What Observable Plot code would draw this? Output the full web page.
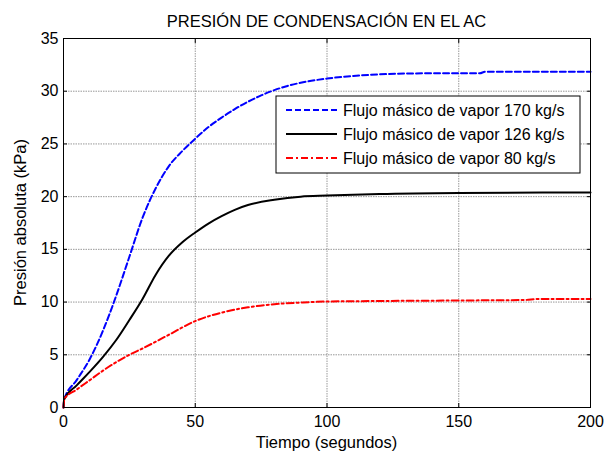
<!DOCTYPE html>
<html>
<head>
<meta charset="utf-8">
<script src="https://cdn.jsdelivr.net/npm/d3@7"></script>
<script src="https://cdn.jsdelivr.net/npm/@observablehq/plot@0.6"></script>
<style>
body { margin: 0; background: #fff; }
svg { font-family: "Liberation Sans", Arial, sans-serif; }
</style>
</head>
<body>
<div id="chart"></div>
<script>
const title = "PRESIÓN DE CONDENSACIÓN EN EL AC";
const xLabel = "Tiempo (segundos)";
const yLabel = "Presión absoluta (kPa)";
const seriesNames = ["Flujo másico de vapor 170 kg/s", "Flujo másico de vapor 126 kg/s", "Flujo másico de vapor 80 kg/s"];
const xTicks = [0, 50, 100, 150, 200];
const yTicks = [0, 5, 10, 15, 20, 25, 30, 35];

const t170 = [0, 0.3, 5, 10, 15, 20, 25, 30, 35, 40, 45, 50, 55, 60, 65, 70, 75, 80, 85, 90, 100, 110, 120, 140, 158, 160, 180, 200];
const p170 = [0, 0.8, 2.6, 4.6, 7.3, 10.6, 14.3, 18.0, 20.8, 22.9, 24.3, 25.5, 26.6, 27.5, 28.3, 29.0, 29.6, 30.1, 30.5, 30.8, 31.2, 31.45, 31.6, 31.7, 31.7, 31.85, 31.85, 31.85];
const t126 = [0, 0.3, 5, 10, 15, 20, 25, 30, 35, 40, 45, 50, 55, 60, 65, 70, 80, 90, 100, 120, 150, 200];
const p126 = [0, 0.8, 2.1, 3.4, 4.8, 6.4, 8.3, 10.3, 12.6, 14.4, 15.65, 16.6, 17.45, 18.15, 18.75, 19.2, 19.7, 20.0, 20.1, 20.25, 20.35, 20.4];
const t80 = [0, 0.3, 5, 10, 15, 20, 25, 30, 40, 50, 60, 70, 80, 90, 100, 120, 150, 175, 180, 200];
const p80 = [0, 0.8, 1.7, 2.6, 3.5, 4.3, 5.0, 5.6, 6.9, 8.2, 9.0, 9.5, 9.8, 9.95, 10.05, 10.1, 10.15, 10.2, 10.3, 10.3];

const colors = ["#0000ff", "#000000", "#ff0000"];
const dashes = ["6,3", null, "7,3,2,3"];

const mk = (ts, ps, s) => ts.map((t, i) => ({t, p: ps[i], s}));
const data = [mk(t170, p170, 0), mk(t126, p126, 1), mk(t80, p80, 2)];

const W = 605, H = 454;
const ml = 63, mr = 15, mt = 38, mb = 47;

const plot = Plot.plot({
  width: W, height: H,
  marginLeft: ml, marginRight: mr, marginTop: mt, marginBottom: mb,
  style: {fontFamily: "Liberation Sans, Arial, sans-serif", fontSize: "16px", background: "white", color: "black"},
  x: {domain: [0, 200], ticks: xTicks},
  y: {domain: [0, 35], ticks: yTicks},
  marks: [
    Plot.gridX(xTicks, {stroke: "#777", strokeOpacity: 0.75, strokeDasharray: "1.5,1"}),
    Plot.gridY(yTicks, {stroke: "#777", strokeOpacity: 0.75, strokeDasharray: "1.5,1"}),
    Plot.axisX(xTicks, {anchor: "bottom", tickSize: 0, tickPadding: 8, label: null, fontSize: 16}),
    Plot.axisX(xTicks, {anchor: "bottom", tickSize: -4, text: null, label: null}),
    Plot.axisX(xTicks, {anchor: "top", tickSize: -4, text: null, label: null}),
    Plot.axisY(yTicks, {anchor: "left", tickSize: 0, tickPadding: 5, label: null, fontSize: 16}),
    Plot.axisY(yTicks, {anchor: "left", tickSize: -4, text: null, label: null}),
    Plot.axisY(yTicks, {anchor: "right", tickSize: -4, text: null, label: null}),
    ...data.map((d, i) => Plot.line(d, {x: "t", y: "p", stroke: colors[i], strokeWidth: 2, strokeDasharray: dashes[i], curve: "monotone-x"})),
    Plot.frame({stroke: "black", strokeWidth: 1})
  ]
});

const svg = d3.select(plot);
svg.append("text").attr("x", ml + (W - ml - mr) / 2).attr("y", 27).attr("text-anchor", "middle")
  .attr("font-size", 16.5).attr("fill", "black").text(title);
svg.append("text").attr("x", ml + (W - ml - mr) / 2).attr("y", 448).attr("text-anchor", "middle")
  .attr("font-size", 16.5).attr("fill", "black").text(xLabel);
svg.append("text").attr("transform", `translate(26,${mt + (H - mt - mb) / 2}) rotate(-90)`).attr("text-anchor", "middle")
  .attr("font-size", 16.5).attr("fill", "black").text(yLabel);

// legend
const lg = svg.append("g").attr("transform", "translate(276,96)");
lg.append("rect").attr("x", 0).attr("y", 0).attr("width", 304).attr("height", 77)
  .attr("fill", "white").attr("stroke", "black").attr("stroke-width", 1);
seriesNames.forEach((name, i) => {
  const y = 14 + i * 24;
  lg.append("line").attr("x1", 10).attr("x2", 61).attr("y1", y).attr("y2", y)
    .attr("stroke", colors[i]).attr("stroke-width", 2).attr("stroke-dasharray", dashes[i]);
  lg.append("text").attr("x", 67).attr("y", y + 6).attr("text-anchor", "start")
    .attr("font-size", 16).attr("fill", "black").text(name);
});

document.getElementById("chart").appendChild(plot);
</script>
</body>
</html>
